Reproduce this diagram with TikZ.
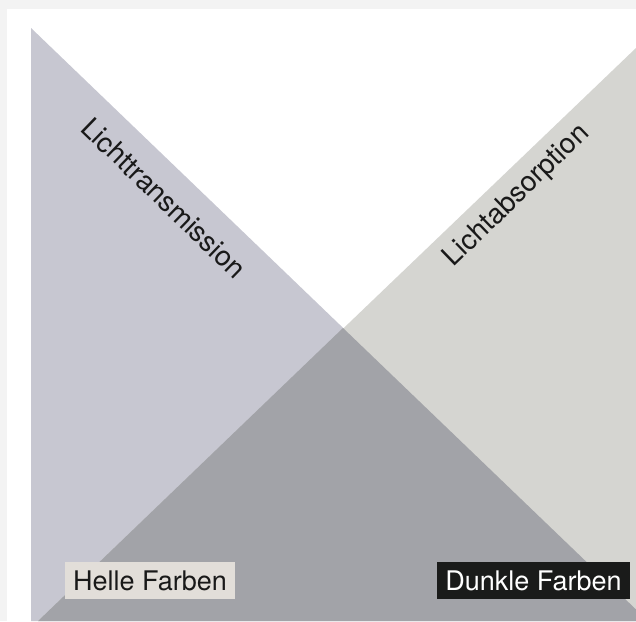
\documentclass[tikz,border=0pt]{standalone}
\usepackage{fontspec}
\setmainfont{TeX Gyre Heros}
\usepackage{tikz}
\usetikzlibrary{calc}
\usetikzlibrary{positioning}

\definecolor{framegray}{HTML}{F3F3F3}
\definecolor{transgray}{HTML}{C7C7D1}
\definecolor{absgray}{HTML}{D5D5D1}
\definecolor{mixgray}{HTML}{A2A3A8}
\definecolor{lightbox}{HTML}{E2DED9}
\definecolor{darkbox}{HTML}{1A1B1A}

\begin{document}
\begin{tikzpicture}
	[
	x = 1pt, y = -1pt,
	lbl/.style = {font=\fontsize{27}{32}\selectfont, text=black!90, inner sep=0pt},
	slant/.style = {lbl, font=\fontsize{28}{33}\selectfont},
	tag/.style = {lbl, minimum height=37pt, inner xsep=8pt, text height=19pt, text depth=0pt}
	]
		\useasboundingbox (0,0) rectangle (636,621);
		\fill[framegray] (0,0) rectangle (636,621);
		\fill[white] (7,9) rectangle (636,621);
		\clip (0,0) rectangle (636,621);

		\coordinate (t1) at (31,28);
		\coordinate (t2) at (648,621);
		\coordinate (t3) at (31,621);
		\coordinate (a1) at (636,48);
		\coordinate (a2) at (636,621);
		\coordinate (a3) at (38,621);
		\coordinate (x) at (343,328);

		\fill[transgray] (t1) -- (t2) -- (t3) -- cycle;
		\fill[absgray] (a1) -- (a2) -- (a3) -- cycle;
		\fill[mixgray] (x) -- (t2) -- (a3) -- cycle;

		\node[slant, rotate=-44] (trans) at (164,198) {Lichttransmission};
		\node[slant, rotate=44] (abs) at (517,196) {Lichtabsorption};

		\node[tag, fill=lightbox] (hell) at (150,580.5) {Helle Farben};
		\node[tag, fill=darkbox, text=white] (dunkel) at (533.5,580.5) {Dunkle Farben};
	\end{tikzpicture}
\end{document}
